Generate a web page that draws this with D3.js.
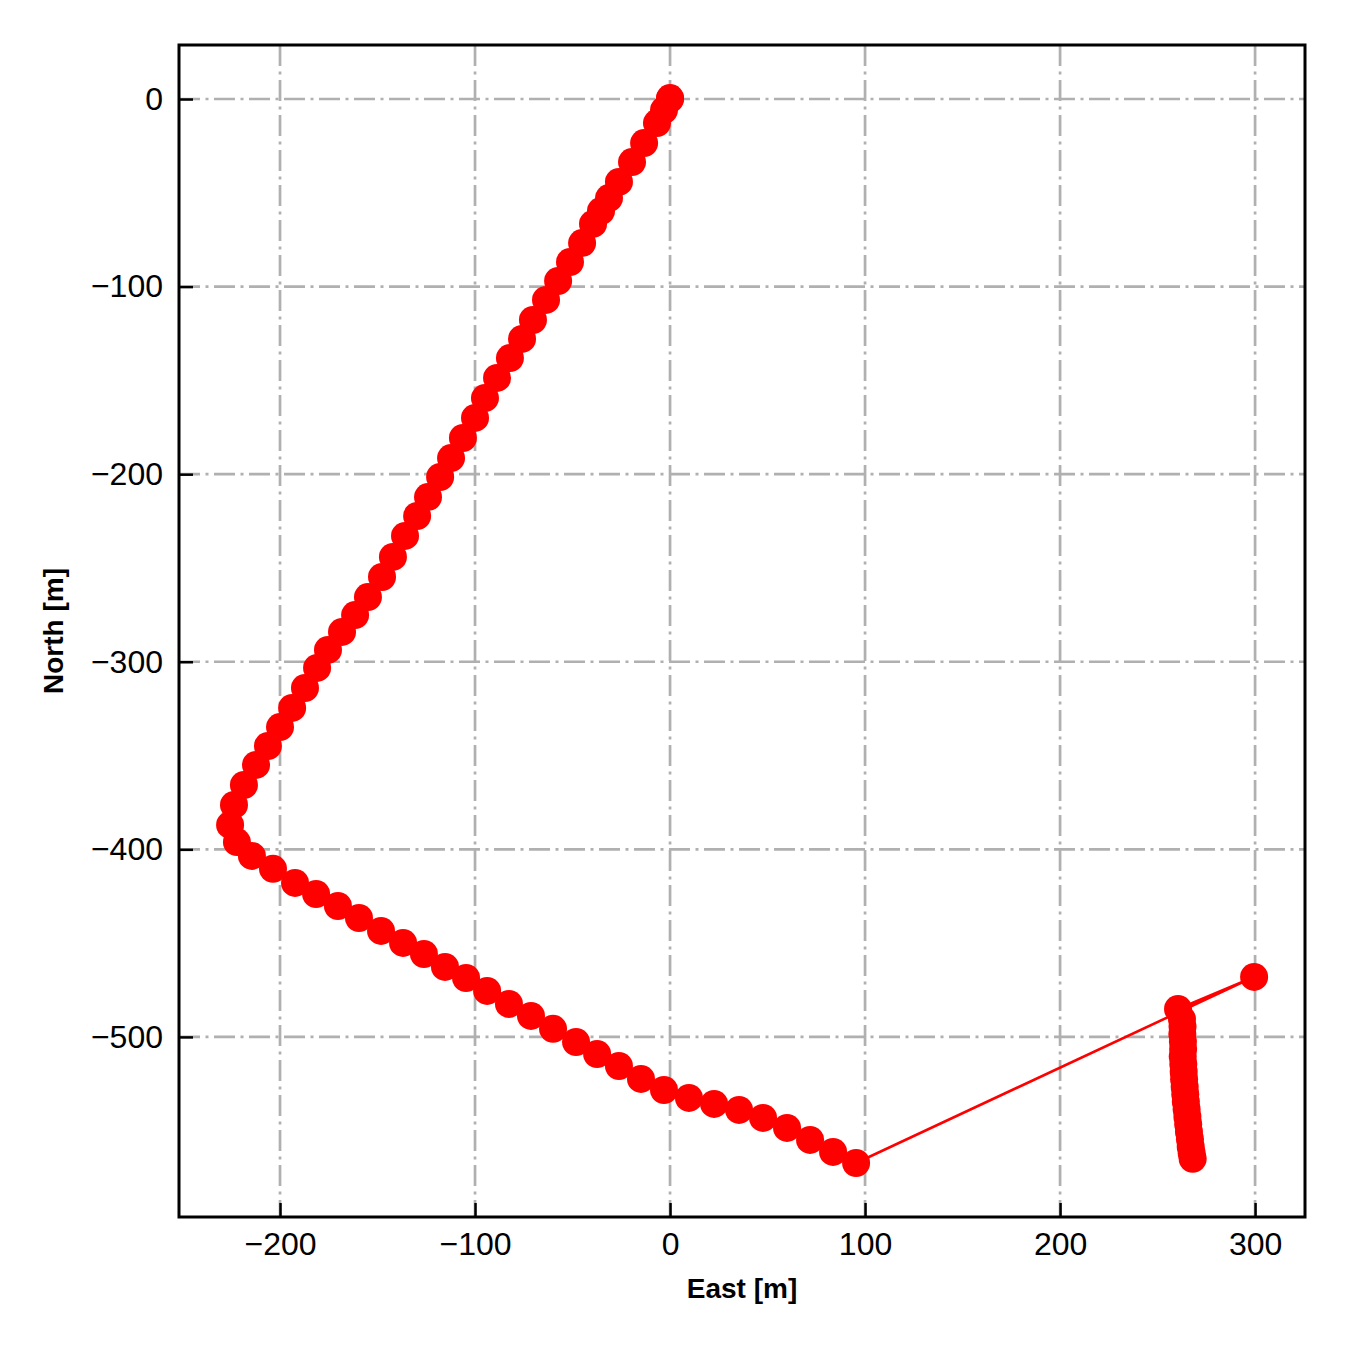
<!DOCTYPE html>
<html>
<head>
<meta charset="utf-8">
<script src="https://cdn.jsdelivr.net/npm/d3@7"></script>
<style>
  body { margin: 0; background: #fff; }
  text { font-family: "Liberation Sans", Arial, sans-serif; }
</style>
</head>
<body>
<div id="chart"></div>
<script>
// Track positions (East, North) in metres
const east = [
  0, 0, -3.1, -6.7, -13.3, -19.5, -26.2, -31.3, -35.4, -39.5, -45.1, -51.3, -57.4, -63.6,
  -70.3, -75.9, -82.1, -88.7, -94.9, -100.0, -106.2, -112.3, -117.9, -124.1, -129.7,
  -135.9, -142.1, -147.7, -154.9, -161.5, -168.2, -175.4, -181.0, -187.2, -193.8,
  -200.0, -206.2, -212.3, -218.5, -223.6, -225.6, -222.1, -214.4, -203.6, -192.3,
  -181.5, -170.3, -159.5, -148.2, -136.9, -126.2, -115.4, -104.6, -93.8, -82.6,
  -71.3, -60.0, -48.2, -37.4, -26.2, -14.9, -3.1, 9.7, 22.6, 35.4, 47.7, 60.0, 71.8,
  83.6, 95.4, 299.5, 260.5,
  262.5, 262.8, 262.7, 263.0, 263.1, 262.9, 263.2, 263.4, 263.6, 263.9, 264.2,
  264.5, 264.9, 265.3, 265.7, 266.1, 266.6, 267.0, 267.5, 268.0
];
const north = [
  0.5, 0, -5.9, -12.8, -23.5, -33.6, -44.2, -52.8, -59.7, -66.6, -76.8, -86.9, -97.0, -107.1,
  -117.8, -127.9, -138.1, -148.7, -159.4, -170.0, -180.7, -191.4, -201.5, -212.2, -222.3,
  -232.9, -244.1, -254.8, -265.5, -275.1, -284.1, -293.7, -303.3, -314.0, -324.6,
  -334.8, -344.9, -355.0, -365.7, -376.3, -387.0, -396.1, -403.5, -410.4, -417.9,
  -423.8, -430.2, -436.6, -443.5, -449.9, -455.8, -462.7, -468.6, -475.5, -482.4,
  -488.8, -495.7, -502.7, -509.1, -515.5, -522.4, -528.3, -532.5, -535.7, -538.9,
  -543.2, -548.5, -554.9, -561.3, -567.2, -468.0, -485.1,
  -490.5, -494.5, -498.5, -502.5, -506.5, -510.5, -514.5, -518.5, -522.5, -526.5, -530.5,
  -534.5, -538.5, -542.5, -546.5, -550.5, -554.5, -558.5, -562.0, -565.0
];

const xTicks = [-200, -100, 0, 100, 200, 300];
const yTicks = [0, -100, -200, -300, -400, -500];

const width = 1350;
const height = 1350;
const margin = { top: 45, right: 45, bottom: 133, left: 179 };
const w = width - margin.left - margin.right;
const h = height - margin.top - margin.bottom;

const svg = d3.select('#chart')
  .append('svg')
  .attr('width', width)
  .attr('height', height);

const g = svg.append('g')
  .attr('transform', `translate(${margin.left},${margin.top})`);

const x = d3.scaleLinear().domain([-251.8, 325.6]).range([0, w]);
const y = d3.scaleLinear().domain([-596, 28.8]).range([h, 0]);

// grid
const grid = g.append('g')
  .attr('stroke', '#b0b0b0')
  .attr('stroke-width', 2.7)
  .attr('stroke-dasharray', '21,5.5,3,5.5');

grid.selectAll('.gx')
  .data(xTicks)
  .enter().append('line')
  .attr('x1', d => x(d)).attr('x2', d => x(d))
  .attr('y1', 0).attr('y2', h);

grid.selectAll('.gy')
  .data(yTicks)
  .enter().append('line')
  .attr('x1', 0).attr('x2', w)
  .attr('y1', d => y(d)).attr('y2', d => y(d));

// track
const pts = east.map((e, i) => [e, north[i]]);

g.append('path')
  .datum(pts)
  .attr('fill', 'none')
  .attr('stroke', '#ff0000')
  .attr('stroke-width', 2.6)
  .attr('d', d3.line().x(d => x(d[0])).y(d => y(d[1])));

g.selectAll('circle')
  .data(pts)
  .enter().append('circle')
  .attr('cx', d => x(d[0]))
  .attr('cy', d => y(d[1]))
  .attr('r', 14)
  .attr('fill', '#ff0000');

// axes
const xAxis = g.append('g')
  .attr('transform', `translate(0,${h})`)
  .call(d3.axisBottom(x).tickValues(xTicks).tickSize(-14).tickPadding(15));

const yAxis = g.append('g')
  .call(d3.axisLeft(y).tickValues(yTicks).tickSize(-14).tickPadding(16));

[xAxis, yAxis].forEach(a => {
  a.select('.domain').remove();
  a.selectAll('line').attr('stroke', '#000').attr('stroke-width', 2.5);
  a.selectAll('text')
    .attr('fill', '#000')
    .style('font-size', '32px')
    .style('font-family', '"Liberation Sans", Arial, sans-serif');
});

// frame
g.append('rect')
  .attr('width', w)
  .attr('height', h)
  .attr('fill', 'none')
  .attr('stroke', '#000')
  .attr('stroke-width', 3);

// labels
svg.append('text')
  .attr('x', margin.left + w / 2)
  .attr('y', 1298)
  .attr('text-anchor', 'middle')
  .style('font-size', '28px')
  .style('font-weight', 'bold')
  .text('East [m]');

svg.append('text')
  .attr('transform', `translate(63,${margin.top + h / 2}) rotate(-90)`)
  .attr('text-anchor', 'middle')
  .style('font-size', '28px')
  .style('font-weight', 'bold')
  .text('North [m]');
</script>
</body>
</html>
